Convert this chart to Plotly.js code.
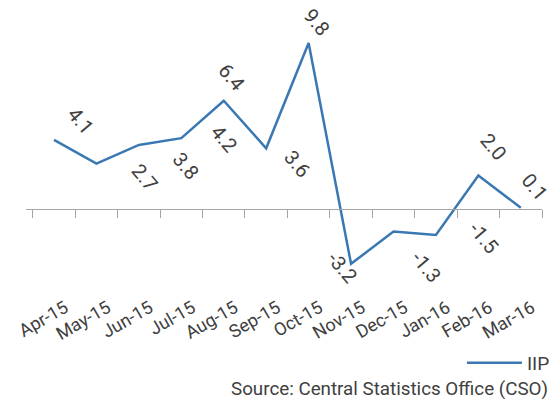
<!DOCTYPE html>
<html>
<head>
<meta charset="utf-8">
<script src="https://cdn.plot.ly/plotly-3.0.1.min.js"></script>
<style>html,body{margin:0;padding:0;background:#fff;}#chart{width:557px;height:404px;}</style>
</head>
<body>
<div id="chart"></div>
<script>
// Data
const months = ["Apr-15","May-15","Jun-15","Jul-15","Aug-15","Sep-15","Oct-15","Nov-15","Dec-15","Jan-16","Feb-16","Mar-16"];
const iip = [4.1, 2.7, 3.8, 4.2, 6.4, 3.6, 9.8, -3.2, -1.3, -1.5, 2.0, 0.1];
const seriesName = "IIP";
const sourceText = "Source: Central Statistics Office (CSO)";

// Label offsets in pixels (style only)
const labelDx = [27, 49, 47, 43, 8, 31, 8, -9, 33, 48, 15, 14];
const labelDy = [-19, 14, 21, 1, -24, 16, -21, 3, 35, 3, -28, -21];

const yMin = -4.74, yMax = 11.74;
const zeroPos = (0 - yMin) / (yMax - yMin);
const textColor = "#404040";
const font = "Roboto, 'Open Sans', sans-serif";

const trace = {
  x: months, y: iip, type: "scatter", mode: "lines", name: seriesName,
  line: {color: "#3a78b3", width: 2.5}, hoverinfo: "skip"
};

const annotations = months.map((m, i) => ({
  x: m, y: iip[i], xref: "x", yref: "y", text: iip[i].toFixed(1),
  showarrow: false, textangle: 50, xshift: labelDx[i], yshift: -labelDy[i],
  font: {family: font, size: 20, color: textColor}, xanchor: "center", yanchor: "middle"
}));
annotations.push({
  xref: "paper", yref: "paper", x: 1.016, y: -0.355, xanchor: "right", yanchor: "middle",
  text: sourceText, showarrow: false, font: {family: font, size: 18.8, color: textColor}
});

const layout = {
  width: 557, height: 404,
  margin: {l: 26, r: 15, t: 10, b: 114, autoexpand: false},
  paper_bgcolor: "#fff", plot_bgcolor: "#fff",
  showlegend: true,
  legend: {x: 1.025, xanchor: "right", y: -0.26, yanchor: "middle", orientation: "h",
    itemwidth: 55,
    font: {family: font, size: 19, color: textColor}, bgcolor: "rgba(0,0,0,0)"},
  xaxis: {
    type: "category", categoryorder: "array", categoryarray: months,
    range: [-0.66, 11.5], anchor: "free", position: zeroPos,
    showline: true, linecolor: "#a6a6a6", linewidth: 1,
    ticks: "outside", tickson: "boundaries", ticklen: 8, tickcolor: "#a6a6a6", tickwidth: 1,
    showgrid: false, zeroline: false, tickangle: -30, ticklabelstandoff: 80, ticklabelshift: 11,
    tickfont: {family: font, size: 18, color: textColor}
  },
  yaxis: {range: [yMin, yMax], visible: false, showgrid: false, zeroline: false},
  annotations: annotations
};

Plotly.newPlot("chart", [trace], layout, {displayModeBar: false, staticPlot: true});
</script>
</body>
</html>
